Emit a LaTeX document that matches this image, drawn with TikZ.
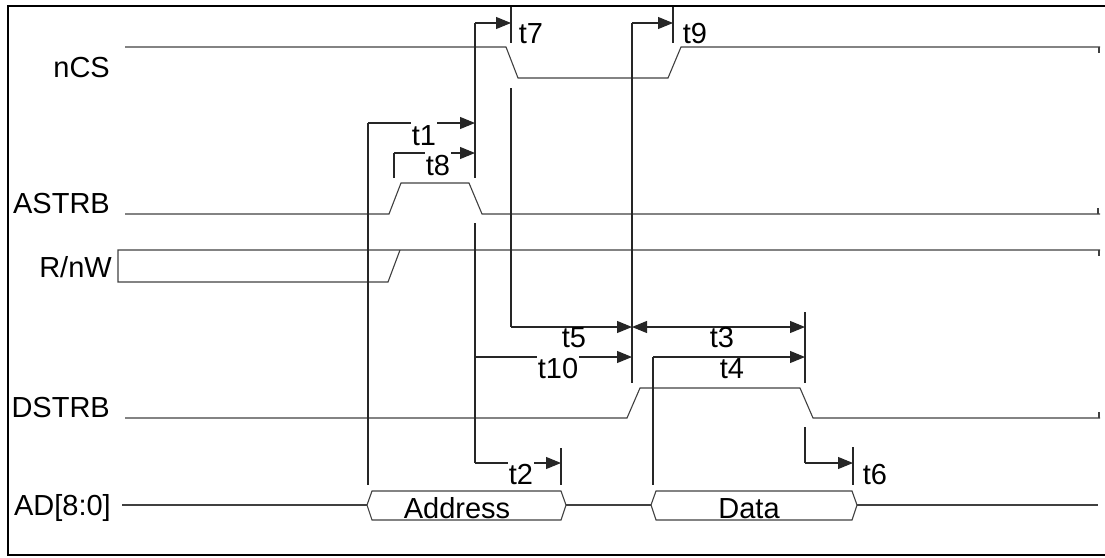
\documentclass[tikz,border=0pt]{standalone}
\usepackage{fontspec}
\setmainfont{Liberation Sans}
\usetikzlibrary{arrows.meta}
\begin{document}
\begin{tikzpicture}[x=1pt,y=-1pt,
  sig/.style={line width=1.1pt, black!75},
  tim/.style={line width=1.1pt, black!85},
  arr/.style={tim, -{Triangle[length=15pt,width=12pt]}},
  darr/.style={tim, {Triangle[length=15pt,width=12pt]}-{Triangle[length=15pt,width=12pt]}},
  lbl/.style={font=\fontsize{29}{32}\selectfont, inner sep=0pt, anchor=base},
  sname/.style={lbl, anchor=base east},
  wlbl/.style={lbl, fill=white, inner xsep=1pt, inner ysep=3pt},
  frame/.style={line width=2.4pt, black}]
\useasboundingbox (0,0) rectangle (1105,557);
% frame
\draw[frame] (1112,6) -- (8,6) -- (8,555) -- (1112,555);

% signal names
\node[sname] (nnCS)   at (110,77)  {nCS};
\node[sname] (nASTRB) at (110,213) {ASTRB};
\node[sname] (nRW)    at (112,277) {R/nW};
\node[sname] (nDSTRB) at (110,417) {DSTRB};
\node[sname] (nAD)    at (111,515) {AD[8:0]};

% waveforms
\draw[sig] (125,47) -- (506,47) -- (518,78) -- (668,78) -- (681,47) -- (1100,47);
\draw[sig] (125,214) -- (389,214) -- (401,183) -- (469,183) -- (482,214) -- (1100,214);
\draw[sig] (1100,250) -- (118,250) -- (118,282) -- (388,282) -- (400,250);
\draw[sig] (125,418) -- (627,418) -- (640,388) -- (800,388) -- (813,418) -- (1100,418);
\draw[sig] (122,505) -- (367,505);
\draw[sig] (367,505) -- (372,491) -- (561,491) -- (566,505) -- (561,520) -- (372,520) -- cycle;
\draw[sig] (566,505) -- (651,505);
\draw[sig] (651,505) -- (656,491) -- (852,491) -- (857,505) -- (852,520) -- (656,520) -- cycle;
\draw[sig] (857,505) -- (1098,505);
% right-end ticks
\draw[sig] (1099,47) -- (1099,53);
\draw[sig] (1098,214) -- (1098,208);
\draw[sig] (1099,250) -- (1099,256);
\draw[sig] (1099,418) -- (1099,412);

% timing coordinates
\coordinate (a1) at (368,123);  \coordinate (b1) at (475,123);
\coordinate (a8) at (394,153);  \coordinate (b8) at (475,153);
\coordinate (a7) at (475,23);   \coordinate (b7) at (511,23);
\coordinate (a9) at (632,23);   \coordinate (b9) at (673,23);
\coordinate (a5) at (511,327);  \coordinate (b5) at (632,327);
\coordinate (b3) at (805,327);
\coordinate (a10) at (475,357); \coordinate (b10) at (632,357);
\coordinate (a4) at (653,357);  \coordinate (b4) at (805,357);
\coordinate (a2) at (475,463);  \coordinate (b2) at (561,463);
\coordinate (a6) at (805,463);  \coordinate (b6) at (853,463);

% reference / tick verticals
\draw[tim] (a1) -- (368,485);
\draw[tim] (394,178) -- (a8);
\draw[tim] (a7) -- (475,178);
\draw[tim] (511,7) -- (511,43);
\draw[tim] (511,88) -- (a5);
\draw[tim] (475,223) -- (a2);
\draw[tim] (a9) -- (632,383);
\draw[tim] (673,7) -- (673,43);
\draw[tim] (805,312) -- (805,383);
\draw[tim] (a4) -- (653,485);
\draw[tim] (805,427) -- (a6);
\draw[tim] (561,448) -- (561,485);
\draw[tim] (853,447) -- (853,485);

% arrows
\draw[arr] (a1) -- (b1);
\draw[arr] (a8) -- (b8);
\draw[arr] (a7) -- (b7);
\draw[arr] (a9) -- (b9);
\draw[arr] (a5) -- (b5);
\draw[darr] (b5) -- (b3);
\draw[arr] (a10) -- (b10);
\draw[arr] (a4) -- (b4);
\draw[arr] (a2) -- (b2);
\draw[arr] (a6) -- (b6);

% timing labels
\node[lbl]  (t7)  at (531,43)  {t7};
\node[lbl]  (t9)  at (695,43)  {t9};
\node[wlbl] (t1)  at (424,145) {t1};
\node[wlbl] (t8)  at (438,175) {t8};
\node[lbl]  (t5)  at (574,347) {t5};
\node[lbl]  (t3)  at (722,347) {t3};
\node[wlbl] (t10) at (558,378) {t10};
\node[lbl]  (t4)  at (732,378) {t4};
\node[wlbl] (t2)  at (521,484) {t2};
\node[lbl]  (t6)  at (875,484) {t6};
\node[lbl]  (addr) at (457,518) {Address};
\node[lbl]  (data) at (749,518) {Data};
\end{tikzpicture}
\end{document}
